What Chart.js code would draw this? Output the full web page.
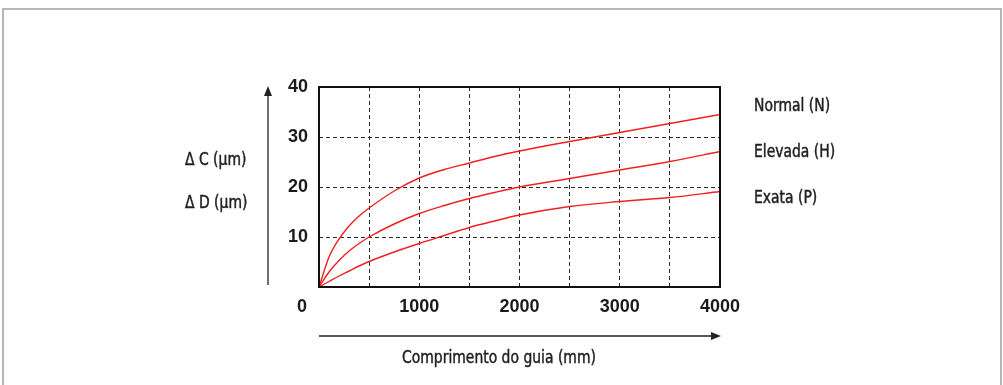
<!DOCTYPE html>
<html>
<head>
<meta charset="utf-8">
<script src="https://cdn.jsdelivr.net/npm/chart.js@4.4.1/dist/chart.umd.min.js"></script>
<style>
  html, body { margin: 0; padding: 0; background: #fff; width: 1003px; height: 385px; overflow: hidden; }
  #frame { position: absolute; left: 2px; top: 8px; width: 996px; height: 400px; border: 2px solid #b6b6ba; border-bottom: none; }
  #wrap { position: absolute; left: 0; top: 0; width: 1003px; height: 385px; }
</style>
</head>
<body>
<div id="frame"></div>
<div id="wrap"><canvas id="c" width="1003" height="385"></canvas></div>
<script>
// ---- Data ----
const lengths = [0, 100, 200, 300, 400, 500, 750, 1000, 1250, 1500, 1750, 2000, 2500, 3000, 3500, 4000];
const normalN  = [0, 6.0, 9.6, 12.2, 14.2, 15.8, 19.2, 21.8, 23.5, 24.8, 26.1, 27.2, 29.1, 30.9, 32.7, 34.5];
const elevadaH = [0, 3.0, 5.3, 7.2, 8.7, 10.0, 12.6, 14.7, 16.3, 17.7, 18.9, 20.0, 21.7, 23.4, 25.1, 27.1];
const exataP   = [0, 1.1, 2.2, 3.2, 4.2, 5.1, 7.0, 8.7, 10.3, 11.9, 13.2, 14.4, 16.1, 17.1, 17.9, 19.1];
const seriesNames = ['Normal (N)', 'Elevada (H)', 'Exata (P)'];
const xTickLabels = ['1000', '2000', '3000', '4000'];
const yTickLabels = ['10', '20', '30', '40'];
const yAxisTexts = ['\u0394 C (\u00b5m)', '\u0394 D (\u00b5m)'];
const xAxisText = 'Comprimento do guia (mm)';
const originLabel = '0';

const RED = '#f02020';
const TICK_FONT = { family: "'Liberation Sans', Arial, sans-serif", size: 18, weight: 'bold' };
const NARROW = "'DejaVu Sans Condensed', 'Liberation Sans', sans-serif";

function toPoints(vals) { return lengths.map((x, i) => ({ x: x, y: vals[i] })); }

function narrowText(ctx, txt, x, y) {
  ctx.save();
  ctx.translate(x, y);
  ctx.scale(0.86, 1);
  ctx.fillText(txt, 0, 0);
  ctx.strokeText(txt, 0, 0);
  ctx.restore();
}

const decor = {
  id: 'decor',
  afterDraw(chart) {
    const ctx = chart.ctx;
    const a = chart.chartArea;
    ctx.save();
    // plot frame
    ctx.strokeStyle = '#111';
    ctx.lineWidth = 2;
    ctx.strokeRect(a.left, a.top, a.right - a.left, a.bottom - a.top);

    ctx.strokeStyle = '#222';
    ctx.fillStyle = '#222';
    ctx.lineWidth = 1.3;
    // vertical arrow
    const ax = a.left - 51;
    ctx.beginPath();
    ctx.moveTo(ax, a.bottom - 2);
    ctx.lineTo(ax, a.top + 6);
    ctx.stroke();
    ctx.beginPath();
    ctx.moveTo(ax, a.top - 1);
    ctx.lineTo(ax - 4, a.top + 9);
    ctx.lineTo(ax + 4, a.top + 9);
    ctx.closePath();
    ctx.fill();
    // horizontal arrow
    const ay = a.bottom + 49;
    ctx.beginPath();
    ctx.moveTo(a.left, ay);
    ctx.lineTo(a.right - 6, ay);
    ctx.stroke();
    ctx.beginPath();
    ctx.moveTo(a.right + 1, ay);
    ctx.lineTo(a.right - 9, ay - 4);
    ctx.lineTo(a.right - 9, ay + 4);
    ctx.closePath();
    ctx.fill();

    // origin label
    ctx.fillStyle = '#1a1a1a';
    ctx.font = 'bold 18px ' + TICK_FONT.family;
    ctx.textAlign = 'center';
    ctx.textBaseline = 'middle';
    ctx.fillText(originLabel, a.left - 17, a.bottom + 20);

    // condensed texts
    ctx.fillStyle = '#222';
    ctx.strokeStyle = '#222';
    ctx.lineWidth = 0.45;
    ctx.font = '18px ' + NARROW;
    ctx.textBaseline = 'alphabetic';
    ctx.textAlign = 'left';
    narrowText(ctx, yAxisTexts[0], 185, 164.5);
    narrowText(ctx, yAxisTexts[1], 185, 207.5);
    narrowText(ctx, seriesNames[0], 754, 110.5);
    narrowText(ctx, seriesNames[1], 754, 156.5);
    narrowText(ctx, seriesNames[2], 754, 202.5);
    narrowText(ctx, xAxisText, 402, 363);
    ctx.restore();
  }
};

new Chart(document.getElementById('c'), {
  type: 'line',
  data: {
    datasets: [
      { label: seriesNames[0], data: toPoints(normalN) },
      { label: seriesNames[1], data: toPoints(elevadaH) },
      { label: seriesNames[2], data: toPoints(exataP) }
    ].map(d => Object.assign(d, {
      borderColor: RED, borderWidth: 1.4, pointRadius: 0, fill: false,
      cubicInterpolationMode: 'monotone'
    }))
  },
  options: {
    responsive: false,
    animation: false,
    events: [],
    layout: { padding: { left: 0, top: 87, right: 283, bottom: 0 } },
    plugins: { legend: { display: false }, tooltip: { enabled: false } },
    scales: {
      x: {
        type: 'linear', min: 0, max: 4000,
        afterFit(s) { s.height = 98; },
        grid: { color: '#2a2a2a', lineWidth: 1, drawTicks: false },
        border: { display: false, dash: [4, 3] },
        ticks: {
          stepSize: 500, padding: 9, color: '#1a1a1a', font: TICK_FONT, maxRotation: 0, autoSkip: false,
          callback: v => { const i = xTickLabels.indexOf(String(v)); return i >= 0 ? xTickLabels[i] : ''; }
        }
      },
      y: {
        min: 0, max: 40,
        afterFit(s) { s.width = 319; },
        grid: { color: '#2a2a2a', lineWidth: 1, drawTicks: false },
        border: { display: false, dash: [4, 3] },
        ticks: {
          stepSize: 10, padding: 11, color: '#1a1a1a', font: TICK_FONT,
          callback: v => { const i = yTickLabels.indexOf(String(v)); return i >= 0 ? yTickLabels[i] : ''; }
        }
      }
    }
  },
  plugins: [decor]
});
</script>
</body>
</html>
